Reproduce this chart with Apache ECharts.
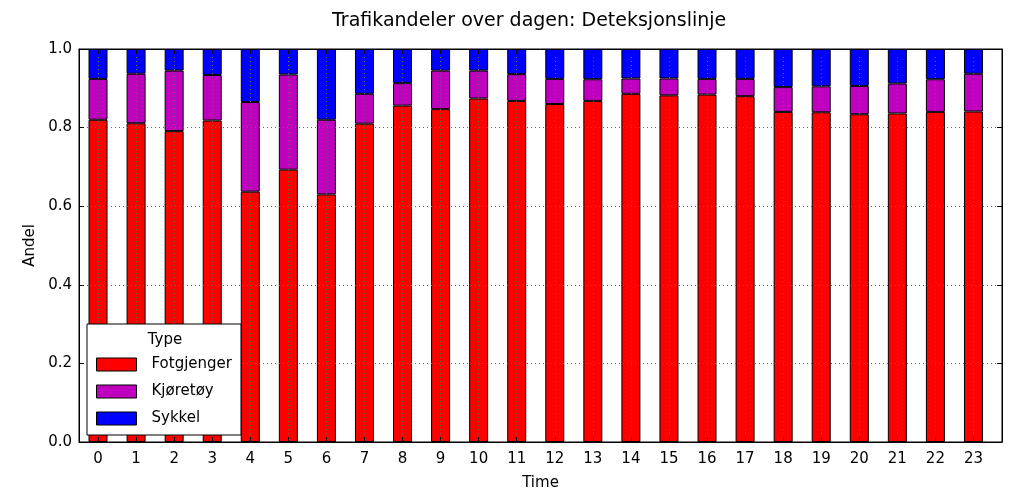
<!DOCTYPE html>
<html>
<head>
<meta charset="utf-8">
<script src="https://cdn.jsdelivr.net/npm/echarts@6/dist/echarts.min.js"></script>
<style>html,body{margin:0;padding:0;background:#fff}#c{width:1023px;height:496px}</style>
</head>
<body>
<div id="c"></div>
<script>
const hours = [0,1,2,3,4,5,6,7,8,9,10,11,12,13,14,15,16,17,18,19,20,21,22,23];
const hourLabels = ['0','1','2','3','4','5','6','7','8','9','10','11','12','13','14','15','16','17','18','19','20','21','22','23'];
const fotgjenger = [0.820,0.811,0.791,0.818,0.637,0.693,0.630,0.810,0.856,0.847,0.874,0.868,0.860,0.868,0.886,0.882,0.884,0.880,0.840,0.839,0.834,0.836,0.840,0.841];
const kjoretoy = [0.104,0.126,0.154,0.116,0.228,0.242,0.190,0.076,0.057,0.098,0.071,0.068,0.064,0.055,0.039,0.043,0.040,0.044,0.063,0.066,0.072,0.076,0.083,0.096];
const sykkel = [0.076,0.063,0.055,0.066,0.135,0.065,0.180,0.114,0.087,0.055,0.055,0.064,0.076,0.077,0.075,0.075,0.076,0.076,0.097,0.095,0.094,0.088,0.077,0.063];
const seriesNames = ['Fotgjenger','Kjøretøy','Sykkel'];

const FONT = 'DejaVu Sans';
const chart = echarts.init(document.getElementById('c'), null, {renderer: 'canvas'});
const gridLine = {show: true, lineStyle: {color: '#666', type: [1, 3], width: 1}};
// data stored as [value, hour] so the value dimension is the stacked one
const mk = (name, vals, color) => ({
  name: name, type: 'bar', stack: 'total', barWidth: 19,
  xAxisIndex: 0, yAxisIndex: 0,
  dimensions: ['andel', 'time'],
  encode: {x: 'time', y: 'andel'},
  itemStyle: {color: color, borderColor: '#000', borderWidth: 1},
  data: hours.map((h, i) => [vals[i], h])
});
chart.setOption({
  animation: false,
  backgroundColor: '#fff',
  title: {text: 'Trafikandeler over dagen: Deteksjonslinje', left: 327, top: 7,
    textStyle: {fontFamily: FONT, fontSize: 19, fontWeight: 'normal', color: '#000'}},
  grid: {left: 79, right: 21, top: 49, bottom: 50, show: true, borderColor: '#000', borderWidth: 1, containLabel: false},
  legend: {
    orient: 'vertical', left: 87, top: 324, data: seriesNames,
    itemWidth: 40, itemHeight: 13, itemGap: 12, icon: 'rect',
    padding: [33, 9, 9, 9],
    backgroundColor: '#fff', borderColor: '#000', borderWidth: 1, borderRadius: 0,
    itemStyle: {borderColor: '#000', borderWidth: 1},
    textStyle: {fontFamily: FONT, fontSize: 15, color: '#000', padding: [0, 0, 0, 10]},
    z: 20
  },
  graphic: [{type: 'text', x: 165, y: 340, z: 100,
    style: {text: 'Type', fontFamily: FONT, fontSize: 15, fill: '#000', align: 'center', verticalAlign: 'middle'}}],
  xAxis: [{
    type: 'value', min: -0.5, max: 23.75, position: 'bottom', z: 5,
    name: 'Time', nameLocation: 'middle', nameGap: 34,
    nameTextStyle: {fontFamily: FONT, fontSize: 15, color: '#000'},
    axisLine: {show: true, onZero: false, lineStyle: {color: '#000', width: 1}},
    axisTick: {show: true, inside: true, length: 5, lineStyle: {color: '#000'}, customValues: hours},
    axisLabel: {show: true, customValues: hours, formatter: v => hourLabels[hours.indexOf(v)], fontFamily: FONT, fontSize: 15, color: '#000', margin: 10},
    splitLine: gridLine
  }, {
    type: 'value', min: -0.5, max: 23.75, position: 'top', z: 5,
    axisLine: {show: true, onZero: false, lineStyle: {color: '#000', width: 1}},
    axisTick: {show: true, inside: true, length: 5, lineStyle: {color: '#000'}, customValues: hours},
    axisLabel: {show: false}, splitLine: {show: false}
  }],
  yAxis: [{
    type: 'value', min: 0, max: 1, interval: 0.2, position: 'left', z: 5,
    name: 'Andel', nameLocation: 'middle', nameGap: 35,
    nameTextStyle: {fontFamily: FONT, fontSize: 15, color: '#000'},
    axisLine: {show: true, onZero: false, lineStyle: {color: '#000', width: 1}},
    axisTick: {show: true, inside: true, length: 5, lineStyle: {color: '#000'}},
    axisLabel: {fontFamily: FONT, fontSize: 15, color: '#000', margin: 7, formatter: v => v.toFixed(1)},
    splitLine: gridLine
  }, {
    type: 'value', min: 0, max: 1, interval: 0.2, position: 'right', z: 5,
    axisLine: {show: true, onZero: false, lineStyle: {color: '#000', width: 1}},
    axisTick: {show: true, inside: true, length: 5, lineStyle: {color: '#000'}},
    axisLabel: {show: false}, splitLine: {show: false}
  }],
  series: [
    mk(seriesNames[0], fotgjenger, '#ff0000'),
    mk(seriesNames[1], kjoretoy, '#bf00bf'),
    mk(seriesNames[2], sykkel, '#0000ff')
  ]
});
</script>
</body>
</html>
